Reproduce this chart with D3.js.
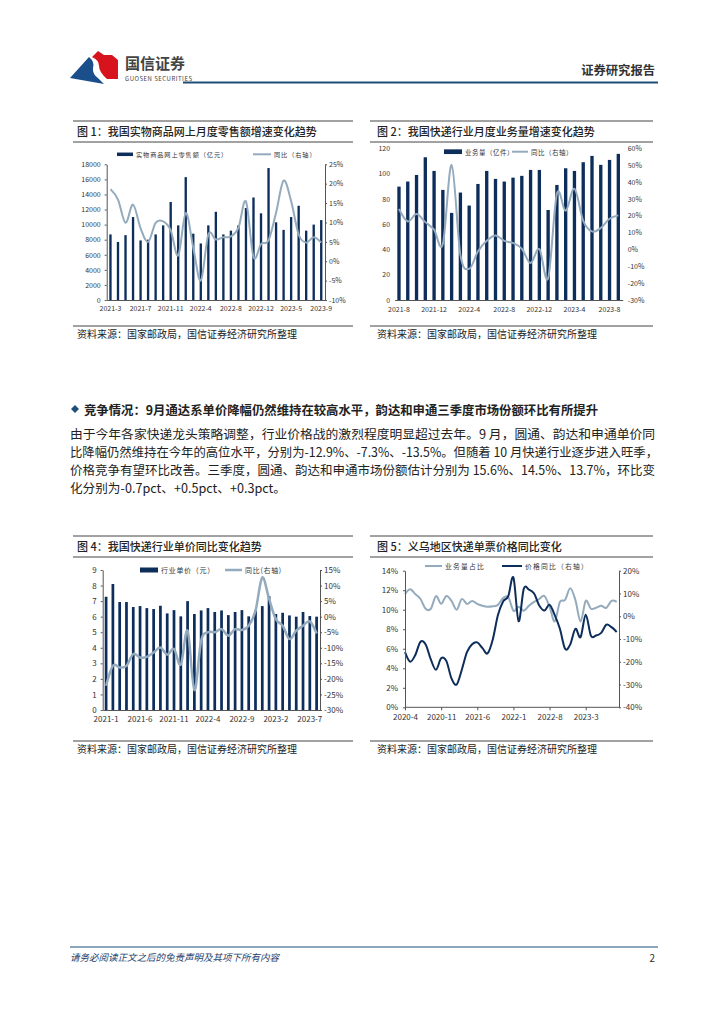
<!DOCTYPE html>
<html><head><meta charset="utf-8">
<script src="https://cdn.jsdelivr.net/npm/d3@7"></script>
<style>
body{margin:0;background:#fff}
svg{display:block}
text{font-family:"Noto Sans CJK SC","Noto Sans",sans-serif}
</style></head>
<body><svg id="c" width="724" height="1024"></svg>
<script>
// ---------------- DATA ----------------
// Fig 1: online physical goods retail (100m yuan) and YoY (%)
const cats1 = ["2021-3","2021-4","2021-5","2021-6","2021-7","2021-8","2021-9","2021-10","2021-11","2021-12","2022-2","2022-3","2022-4","2022-5","2022-6","2022-7","2022-8","2022-9","2022-10","2022-11","2022-12","2023-2","2023-3","2023-4","2023-5","2023-6","2023-7","2023-8","2023-9"];
const retail1 = [8700,7700,8600,11000,7900,8000,8700,9900,13000,9900,16300,8800,7500,9900,11700,8700,9200,9900,12200,13600,11500,17500,10300,9300,11000,12500,9200,10000,10600];
const yoy1 = [18.6,15.9,9.9,14.6,8.5,5.0,9.9,10.3,8.0,1.5,12.4,3.5,-5.0,6.9,5.6,6.2,6.4,8.6,15.4,1.1,4.4,5.4,12.5,20.8,15.5,6.9,4.8,6.2,4.8];
const ticks1 = ["2021-3","2021-7","2021-11","2022-4","2022-8","2022-12","2023-5","2023-9"];

// Fig 2: express volume (100m pieces) and YoY (%)
const cats2 = ["2021-8","2021-9","2021-10","2021-11","2021-12","2022-1","2022-2","2022-3","2022-4","2022-5","2022-6","2022-7","2022-8","2022-9","2022-10","2022-11","2022-12","2023-1","2023-2","2023-3","2023-4","2023-5","2023-6","2023-7","2023-8","2023-9"];
const vol2 = [89.7,93.7,98.9,112.9,102.1,87.1,68.9,85.0,74.7,91.8,102.1,95.8,93.7,96.8,98.2,102.9,102.9,71.2,91.0,104.2,102.1,109.0,114.0,106.9,110.8,115.6];
const yoy2 = [24,16.6,21,16.2,11.7,3.2,50,-3.2,-11.5,-1.2,5.1,8.3,5.1,3.8,0.4,-8.1,0.2,-17,33,23,36,17,10.7,12.7,18.2,20.2];
const ticks2 = ["2021-8","2021-12","2022-4","2022-8","2022-12","2023-4","2023-8"];

// Fig 4: unit price (yuan) and YoY (%)
const cats4 = ["2021-1","2021-2","2021-3","2021-4","2021-5","2021-6","2021-7","2021-8","2021-9","2021-10","2021-11","2021-12","2022-1","2022-2","2022-3","2022-4","2022-5","2022-6","2022-7","2022-8","2022-9","2022-10","2022-11","2022-12","2023-1","2023-2","2023-3","2023-4","2023-5","2023-6","2023-7","2023-8"];
const price4 = [7.28,8.1,6.94,6.94,6.62,6.68,6.55,6.49,6.70,6.21,6.42,6.02,7.0,6.17,6.4,6.55,6.3,6.4,6.1,6.3,6.42,6.02,6.4,6.68,7.32,6.17,6.25,6.08,6.0,6.3,6.04,6.0];
const yoy4 = [-22.2,-15.8,-16.3,-15.8,-12,-13.1,-12.9,-11.5,-9.9,-12.2,-10.4,-15.4,-4.5,-23.6,-7.7,-5,-5,-4,-6.1,-4,-4.3,-2.9,1.9,12.6,5.7,-0.8,-2.9,-7.2,-4.5,-2.9,-1.5,-5.4];
const ticks4 = ["2021-1","2021-6","2021-11","2022-4","2022-9","2023-2","2023-7"];

// Fig 5: Yiwu share of volume (%) and price YoY (%)
const cats5 = ["2020-4","2020-5","2020-6","2020-7","2020-8","2020-9","2020-10","2020-11","2020-12","2021-1","2021-2","2021-3","2021-4","2021-5","2021-6","2021-7","2021-8","2021-9","2021-10","2021-11","2021-12","2022-1","2022-2","2022-3","2022-4","2022-5","2022-6","2022-7","2022-8","2022-9","2022-10","2022-11","2022-12","2023-1","2023-2","2023-3","2023-4","2023-5","2023-6","2023-7","2023-8","2023-9"];
const share5 = [11.6,12.1,11.6,11.1,10.1,10.1,11.4,10.6,11.4,10.9,10.0,11.1,10.6,10.9,10.6,10.4,10.3,10.35,10.5,11.2,11.3,9.9,10.3,9.9,10.4,10.8,11.1,11.4,10.3,8.8,10.8,11.0,12.2,11.0,8.8,10.9,10.1,10.2,10.4,10.2,10.9,10.8];
const price5 = [-15.8,-20,-17,-11.2,-12.4,-19,-23.5,-18.5,-19.6,-27.3,-30,-23.5,-15.8,-12.3,-11.5,-14,-16.3,-10.2,0.5,6.5,8.8,17,-2.2,12,11.7,10,4.7,2.5,5,0.5,-5.5,-14.3,-12.4,-5.5,-9.2,0.7,-8.5,-8.5,-7.3,-3.7,-4.8,-6.9];
const ticks5 = ["2020-4","2020-11","2021-6","2022-1","2022-8","2023-3"];

// ---------------- DRAW ----------------
const svg = d3.select("#c");
svg.append("rect").attr("width",724).attr("height",1024).attr("fill","#fff");
const NAVY = "#0d2d5b", GREY = "#94aabd", TXT = "#333", BLUE = "#1f4e79";

// header
const hdr = svg.append("g");
hdr.append("path").attr("d","M70,78 L89,57 Q95,62 93,68 Q92,74 99,79 L104,84 Z").attr("fill","#1b4f8c");
hdr.append("path").attr("d","M92,57 L98,51 L104,55 L112,55 L118,60 L118,79 L107,79 Q99,72 99,66 Q99,60 92,57 Z").attr("fill","#d7141d");
hdr.append("text").attr("x",125).attr("y",62.5).attr("dominant-baseline","central").attr("font-size",15).attr("font-weight",700).attr("fill","#444").text("国信证券");
hdr.append("text").attr("x",125).attr("y",78.5).attr("dominant-baseline","central").attr("font-size",6).attr("fill","#444").attr("textLength",67).text("GUOSEN SECURITIES");
hdr.append("text").attr("x",655).attr("y",70).attr("text-anchor","end").attr("dominant-baseline","central").attr("font-size",12.3).attr("font-weight",700).attr("fill","#333").text("证券研究报告");
hdr.append("line").attr("x1",183).attr("x2",658).attr("y1",82.5).attr("y2",82.5).attr("stroke",BLUE).attr("stroke-width",2);

// frame helper
function frame(x0, x1, yTop, title, tx){
  const g = svg.append("g");
  g.append("line").attr("x1",x0).attr("x2",x1).attr("y1",yTop).attr("y2",yTop).attr("stroke","#444").attr("stroke-width",1);
  g.append("text").attr("x",tx).attr("y",yTop+9.7).attr("dominant-baseline","central").attr("font-size",11).attr("font-weight",500).attr("fill","#222").text(title);
  g.append("line").attr("x1",x0).attr("x2",x1).attr("y1",yTop+21).attr("y2",yTop+21).attr("stroke","#444").attr("stroke-width",1);
  g.append("line").attr("x1",x0).attr("x2",x1).attr("y1",yTop+205).attr("y2",yTop+205).attr("stroke","#444").attr("stroke-width",1);
  g.append("text").attr("x",tx).attr("y",yTop+212.5).attr("dominant-baseline","central").attr("font-size",10).attr("fill","#222").text("资料来源：国家邮政局，国信证券经济研究所整理");
}
frame(73,353,121,"图 1：我国实物商品网上月度零售额增速变化趋势",77);
frame(370,653,121,"图 2：我国快递行业月度业务量增速变化趋势",377);
frame(73,353,536,"图 4：我国快递行业单价同比变化趋势",77);
frame(370,653,536,"图 5：义乌地区快递单票价格同比变化",377);

function styleAxis(sel, fs, showDomain){
  sel.selectAll("text").attr("font-size",fs).attr("fill",TXT).attr("font-family","Liberation Sans, Arial, sans-serif");
  sel.selectAll("line").attr("stroke","#555");
  sel.select(".domain").attr("stroke", showDomain ? "#555" : "none");
}

function legendRect(x, y, w, h, label, fs, ls){
  svg.append("rect").attr("x",x).attr("y",y-h/2).attr("width",w).attr("height",h).attr("fill",NAVY);
  svg.append("text").attr("x",x+w+3).attr("y",y).attr("dominant-baseline","central").attr("font-size",fs).attr("letter-spacing",ls).attr("fill",TXT).text(label);
}
function legendLine(x, y, w, color, sw, label, fs, ls){
  svg.append("line").attr("x1",x).attr("x2",x+w).attr("y1",y).attr("y2",y).attr("stroke",color).attr("stroke-width",sw);
  svg.append("text").attr("x",x+w+3).attr("y",y).attr("dominant-baseline","central").attr("font-size",fs).attr("letter-spacing",ls).attr("fill",TXT).text(label);
}

function barLine(o){
  const x = d3.scaleBand().domain(o.cats).range([o.x0,o.x1]).paddingInner(o.pad).paddingOuter(o.pad/2);
  const yL = d3.scaleLinear().domain(o.lDom).range([o.yb,o.yt]);
  const yR = d3.scaleLinear().domain(o.rDom).range([o.yb,o.yt]);
  const g = svg.append("g");
  g.selectAll("rect.bar").data(o.bars).join("rect").attr("class","bar")
    .attr("x",(d,i)=>x(o.cats[i])).attr("width",x.bandwidth())
    .attr("y",d=>yL(d)).attr("height",d=>yL(0)-yL(d)).attr("fill",NAVY);
  const line = d3.line().x((d,i)=>x(o.cats[i])+x.bandwidth()/2).y(d=>yR(d)).curve(d3.curveCardinal.tension(0));
  g.append("path").attr("d",line(o.line)).attr("fill","none").attr("stroke",GREY).attr("stroke-width",o.lw);
  const aL = g.append("g").attr("transform",`translate(${o.x0},0)`)
    .call(d3.axisLeft(yL).tickValues(o.lTicks).tickSize(o.vAxis?2:0).tickSizeOuter(0).tickPadding(o.vAxis?4:4.5).tickFormat(o.lFmt||(d=>d)));
  styleAxis(aL,o.fs,o.vAxis);
  const aR = g.append("g").attr("transform",`translate(${o.x1},0)`)
    .call(d3.axisRight(yR).tickValues(o.rTicks).tickSize(o.vAxis?2:0).tickSizeOuter(0).tickPadding(o.vAxis?2:5).tickFormat(d=>d+"%"));
  styleAxis(aR,o.fs,o.vAxis);
  const aB = g.append("g").attr("transform",`translate(0,${o.yb})`)
    .call(d3.axisBottom(x).tickValues(o.xTicks).tickSize(0).tickSizeOuter(0).tickPadding(o.xPad));
  styleAxis(aB,o.fs,true);
}

barLine({cats:cats1,bars:retail1,line:yoy1,x0:106.7,x1:325,yt:164.3,yb:300,pad:0.69,
  lDom:[0,18000],rDom:[-10,25],lTicks:d3.range(0,18001,2000),rTicks:d3.range(-10,26,5),
  xTicks:ticks1,fs:7,vAxis:true,lw:2,xPad:6});
legendRect(117,154.3,16,3.5,"实物商品网上零售额（亿元）",6.2,0.9);
legendLine(253,154.3,18,GREY,2,"同比（右轴）",6.2,0.9);

barLine({cats:cats2,bars:vol2,line:yoy2,x0:394.6,x1:622.7,yt:148.3,yb:300,pad:0.62,
  lDom:[0,120],rDom:[-30,60],lTicks:d3.range(0,121,20),rTicks:d3.range(-30,61,10),
  xTicks:ticks2,fs:7,vAxis:false,lw:2,xPad:7});
legendRect(444,151.7,18,4.7,"业务量（亿件）",6.5,0.5);
legendLine(512,151.7,16,GREY,2,"同比（右轴）",6.5,0.5);

barLine({cats:cats4,bars:price4,line:yoy4,x0:102.7,x1:320,yt:570,yb:710,pad:0.6,
  lDom:[0,9],rDom:[-30,15],lTicks:d3.range(0,10,1),rTicks:d3.range(-30,16,5),
  xTicks:ticks4,fs:8,vAxis:true,lw:2.5,xPad:6.5});
legendRect(140,570,18,5,"行业单价（元）",7,0.7);
legendLine(225,570,17,GREY,2.5,"同比(右轴)",7,0.7);

// Fig 5 dual line
(function(){
  const x = d3.scalePoint().domain(cats5).range([405,616.7]);
  const yL = d3.scaleLinear().domain([0,14]).range([707.3,570.7]);
  const yR = d3.scaleLinear().domain([-40,20]).range([707.3,570.7]);
  const g = svg.append("g");
  const lL = d3.line().x((d,i)=>x(cats5[i])).y(d=>yL(d)).curve(d3.curveCardinal.tension(0));
  const lR = d3.line().x((d,i)=>x(cats5[i])).y(d=>yR(d)).curve(d3.curveCardinal.tension(0));
  g.append("path").attr("d",lL(share5)).attr("fill","none").attr("stroke",GREY).attr("stroke-width",2);
  g.append("path").attr("d",lR(price5)).attr("fill","none").attr("stroke",NAVY).attr("stroke-width",2);
  const aL = g.append("g").attr("transform","translate(405,0)")
    .call(d3.axisLeft(yL).tickValues(d3.range(0,15,2)).tickSize(2).tickSizeOuter(0).tickPadding(5).tickFormat(d=>d+"%"));
  styleAxis(aL,8,true);
  const aR = g.append("g").attr("transform","translate(619,0)")
    .call(d3.axisRight(yR).tickValues(d3.range(-40,21,10)).tickSize(2).tickSizeOuter(0).tickPadding(2).tickFormat(d=>d+"%"));
  styleAxis(aR,8,true);
  const aB = g.append("g").attr("transform","translate(0,707.3)")
    .call(d3.axisBottom(x).tickValues(ticks5).tickSize(3).tickSizeOuter(0).tickPadding(4));
  aB.select(".domain").attr("d","M405,0H619");
  styleAxis(aB,8,true);
  legendLine(425,566,17,GREY,2,"业务量占比",6.8,1.2);
  legendLine(502,566,20,NAVY,2,"价格同比（右轴）",6.8,1.2);
})();

// body text
svg.append("path").attr("d","M75,405 L79,409 L75,413 L71,409 Z").attr("fill",BLUE);
svg.append("text").attr("x",84).attr("y",409).attr("dominant-baseline","central").attr("font-size",12.5).attr("font-weight",700).attr("fill","#222")
  .attr("textLength",514).attr("lengthAdjust","spacingAndGlyphs").text("竞争情况：9月通达系单价降幅仍然维持在较高水平，韵达和申通三季度市场份额环比有所提升");
const para = [
  ["由于今年各家快递龙头策略调整，行业价格战的激烈程度明显超过去年。9 月，圆通、韵达和申通单价同",585],
  ["比降幅仍然维持在今年的高位水平，分别为-12.9%、-7.3%、-13.5%。但随着 10 月快递行业逐步进入旺季，",588],
  ["价格竞争有望环比改善。三季度，圆通、韵达和申通市场份额估计分别为 15.6%、14.5%、13.7%，环比变",585],
  ["化分别为-0.7pct、+0.5pct、+0.3pct。",216]
];
para.forEach((p,i)=>{
  svg.append("text").attr("x",70).attr("y",433+i*18).attr("dominant-baseline","central").attr("font-size",12.5).attr("fill","#222")
    .attr("textLength",p[1]).attr("lengthAdjust","spacingAndGlyphs").text(p[0]);
});

// footer
svg.append("line").attr("x1",70).attr("x2",658).attr("y1",947).attr("y2",947).attr("stroke",BLUE).attr("stroke-width",1);
svg.append("text").attr("x",70).attr("y",957).attr("dominant-baseline","central").attr("font-size",9.5).attr("font-style","italic").attr("fill","#1f3f6e").text("请务必阅读正文之后的免责声明及其项下所有内容");
svg.append("text").attr("x",655).attr("y",957).attr("text-anchor","end").attr("dominant-baseline","central").attr("font-size",10).attr("fill","#333").text("2");
</script></body></html>
